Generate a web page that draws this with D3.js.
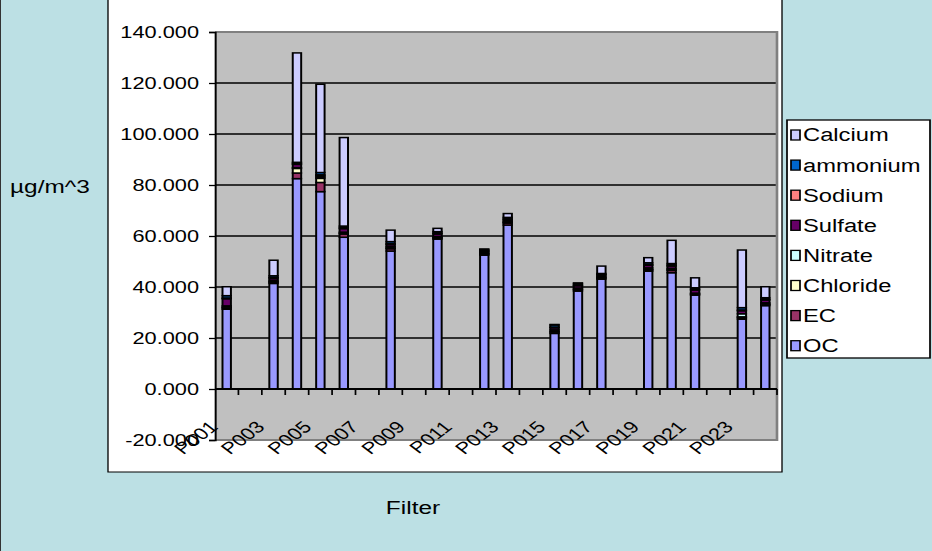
<!DOCTYPE html>
<html>
<head>
<meta charset="utf-8">
<script src="https://cdn.jsdelivr.net/npm/d3@7"></script>
<style>
  html, body { margin: 0; padding: 0; background: #BCE0E4; }
  svg { display: block; }
  text { font-family: "Liberation Sans", Arial, sans-serif; fill: #000; }
</style>
</head>
<body>
<svg id="chart" width="932" height="551"></svg>
<script>
// Filter sample IDs
const categories = ['P001','P002','P003','P004','P005','P006','P007','P008','P009','P010','P011','P012',
                    'P013','P014','P015','P016','P017','P018','P019','P020','P021','P022','P023','P024'];

// Species concentrations (µg/m^3), stacked bottom to top in this order
const OC       = [31.3, null, 41.4, 82.5, 77.4, 59.5, null, 54.1, null, 58.8, null, 52.5, 64.3, null, 21.8, 38.4, 43.1, null, 46.2, 45.6, 36.8, null, 27.4, 32.7];
const EC       = [0.5,  null, 0.5,  2.2,  3.6,  1.3,  null, 0.9,  null, 0.4,  null, 0.4,  0.8,  null, 0.5,  0.5,  0.4,  null, 0.5,  0.9,  0.3,  null, 0.6,  0.4];
const Chloride = [0.3,  null, 0.2,  1.8,  1.6,  0.3,  null, 0.3,  null, 0.2,  null, 0.2,  0.2,  null, 0.3,  0.2,  0.2,  null, 0.2,  0.3,  0.2,  null, 0.3,  0.2];
const Nitrate  = [0.5,  null, 0.6,  0.3,  0.5,  0.4,  null, 0.5,  null, 0.4,  null, 0.4,  0.4,  null, 0.6,  0.5,  0.4,  null, 0.6,  0.5,  0.3,  null, 1.2,  0.5];
const Sulfate  = [2.8,  null, 0.8,  1.3,  0.5,  1.4,  null, 0.8,  null, 1.0,  null, 0.5,  0.6,  null, 0.8,  0.9,  0.6,  null, 1.0,  0.9,  1.2,  null, 1.2,  1.1];
const Sodium   = [0.3,  null, 0.2,  0.3,  0.4,  0.4,  null, 0.4,  null, 0.3,  null, 0.2,  0.4,  null, 0.3,  0.3,  0.2,  null, 0.3,  0.4,  0.3,  null, 0.3,  0.3];
const ammonium = [0.9,  null, 0.7,  0.5,  0.9,  0.6,  null, 0.8,  null, 0.6,  null, 0.5,  0.6,  null, 0.8,  0.6,  0.4,  null, 0.7,  0.6,  0.6,  null, 0.9,  0.6];
const Calcium  = [3.5,  null, 6.1,  42.9, 34.6, 34.7, null, 4.5,  null, 1.3,  null, 0.2,  1.5,  null, 0.2,  0.2,  2.9,  null, 2.0,  9.1,  3.9,  null, 22.6, 4.3];

const seriesNames  = ['OC','EC','Chloride','Nitrate','Sulfate','Sodium','ammonium','Calcium'];
const seriesValues = [OC, EC, Chloride, Nitrate, Sulfate, Sodium, ammonium, Calcium];
const seriesColors = ['#9999FF','#993366','#FFFFCC','#CCFFFF','#660066','#FF8080','#0066CC','#CCCCFF'];

const yTicks      = [-20, 0, 20, 40, 60, 80, 100, 120, 140];
const yTickLabels = ['-20.000','0.000','20.000','40.000','60.000','80.000','100.000','120.000','140.000'];
const xLabelEvery = 2;

const yTitle = 'µg/m^3';
const xTitle = 'Filter';

// Whole drawing is laid out in a narrower space and stretched horizontally.
const K = 1.32;
const X = px => px / K;

const svg = d3.select('#chart');
svg.append('rect').attr('width', 932).attr('height', 551).attr('fill', '#BCE0E4');
svg.append('line').attr('x1', 0.5).attr('x2', 0.5).attr('y1', 0).attr('y2', 551)
   .attr('stroke', '#333').attr('stroke-width', 1);

const root = svg.append('g').attr('transform', `scale(${K},1)`);

// chart area
root.append('rect')
  .attr('x', X(108)).attr('y', -2).attr('width', X(782 - 108)).attr('height', 474)
  .attr('fill', '#fff').attr('stroke', '#000').attr('stroke-width', 1);

const plot = { left: X(215), right: X(777), top: 32, bottom: 440 };

const y = d3.scaleLinear().domain([-20, 140]).range([plot.bottom, plot.top]);
const x = d3.scaleBand().domain(categories).range([plot.left, plot.right]).padding(0);
const xEdge = d3.scaleLinear().domain([0, categories.length]).range([plot.left, plot.right]);

// plot background
root.append('rect')
  .attr('x', plot.left).attr('y', plot.top)
  .attr('width', plot.right - plot.left).attr('height', plot.bottom - plot.top)
  .attr('fill', '#C0C0C0');

// gridlines
root.append('g').selectAll('line')
  .data(yTicks.filter(v => v > -20 && v < 140 && v !== 0))
  .join('line')
  .attr('x1', plot.left).attr('x2', plot.right)
  .attr('y1', d => y(d)).attr('y2', d => y(d))
  .attr('stroke', '#000').attr('stroke-width', 1.3);

// stacked bars
const rows = categories.map((c, i) => {
  const r = { cat: c };
  seriesNames.forEach((s, j) => { r[s] = seriesValues[j][i] == null ? 0 : seriesValues[j][i]; });
  return r;
});
const stacked = d3.stack().keys(seriesNames)(rows);
const barW = x.bandwidth() * 0.36;

const bars = root.append('g');
stacked.forEach((layer, j) => {
  bars.append('g')
    .selectAll('rect')
    .data(layer.filter(d => d[1] - d[0] > 0))
    .join('rect')
    .attr('x', d => x(d.data.cat) + (x.bandwidth() - barW) / 2)
    .attr('width', barW)
    .attr('y', d => y(d[1]))
    .attr('height', d => y(d[0]) - y(d[1]))
    .attr('fill', seriesColors[j])
    .attr('stroke', '#000')
    .attr('stroke-width', 1.5);
});

// plot border (top, right, bottom)
root.append('path')
  .attr('d', `M${plot.left},${plot.top}H${plot.right}V${plot.bottom}H${plot.left}`)
  .attr('fill', 'none').attr('stroke', '#808080').attr('stroke-width', 2);

// value axis
const yAxis = root.append('g')
  .attr('transform', `translate(${plot.left},0)`)
  .call(d3.axisLeft(y).tickValues(yTicks).tickSize(X(6)).tickPadding(X(10))
        .tickFormat((d, i) => yTickLabels[i]));
yAxis.select('.domain').attr('stroke', '#000').attr('stroke-width', 1.5);
yAxis.selectAll('.tick line').attr('stroke', '#000').attr('stroke-width', 1.3);
yAxis.selectAll('.tick text')
  .attr('font-family', '"Liberation Sans", Arial, sans-serif')
  .attr('font-size', 16.5).attr('fill', '#000');

// category axis at zero
const x0 = y(0);
const cAxis = root.append('g');
cAxis.append('line')
  .attr('x1', plot.left).attr('x2', plot.right).attr('y1', x0).attr('y2', x0)
  .attr('stroke', '#000').attr('stroke-width', 2);
cAxis.selectAll('line.tk')
  .data(d3.range(1, categories.length + 1))
  .join('line').attr('class', 'tk')
  .attr('x1', d => xEdge(d)).attr('x2', d => xEdge(d))
  .attr('y1', x0).attr('y2', x0 + 6)
  .attr('stroke', '#000').attr('stroke-width', 1.3);

// slanted category labels, every other filter
cAxis.selectAll('text.lab')
  .data(categories.filter((c, i) => i % xLabelEvery === 0))
  .join('text').attr('class', 'lab')
  .attr('transform', d => `translate(${x(d) + x.bandwidth() / 2 - X(13)},424) rotate(-45)`)
  .attr('text-anchor', 'end')
  .attr('dy', '0.35em')
  .attr('font-size', 16.5)
  .text(d => d);

// axis titles
root.append('text')
  .attr('x', X(10)).attr('y', 187).attr('dy', '0.35em')
  .attr('font-size', 18.5)
  .text(yTitle);
root.append('text')
  .attr('x', X(413)).attr('y', 508).attr('dy', '0.35em')
  .attr('text-anchor', 'middle')
  .attr('font-size', 18.5)
  .text(xTitle);

// legend
const legend = root.append('g');
legend.append('rect')
  .attr('x', X(787)).attr('y', 120).attr('width', X(930 - 787)).attr('height', 238)
  .attr('fill', '#fff').attr('stroke', '#000').attr('stroke-width', 1.3);
const order = d3.range(seriesNames.length).reverse();
const li = legend.selectAll('g.item')
  .data(order)
  .join('g').attr('class', 'item')
  .attr('transform', (d, i) => `translate(0,${135 + i * 30.1})`);
li.append('rect')
  .attr('x', X(791)).attr('y', -5).attr('width', X(9)).attr('height', 10)
  .attr('fill', d => seriesColors[d]).attr('stroke', '#000').attr('stroke-width', 1.3);
li.append('text')
  .attr('x', X(803)).attr('dy', '0.36em')
  .attr('font-size', 18)
  .text(d => seriesNames[d]);
</script>
</body>
</html>
